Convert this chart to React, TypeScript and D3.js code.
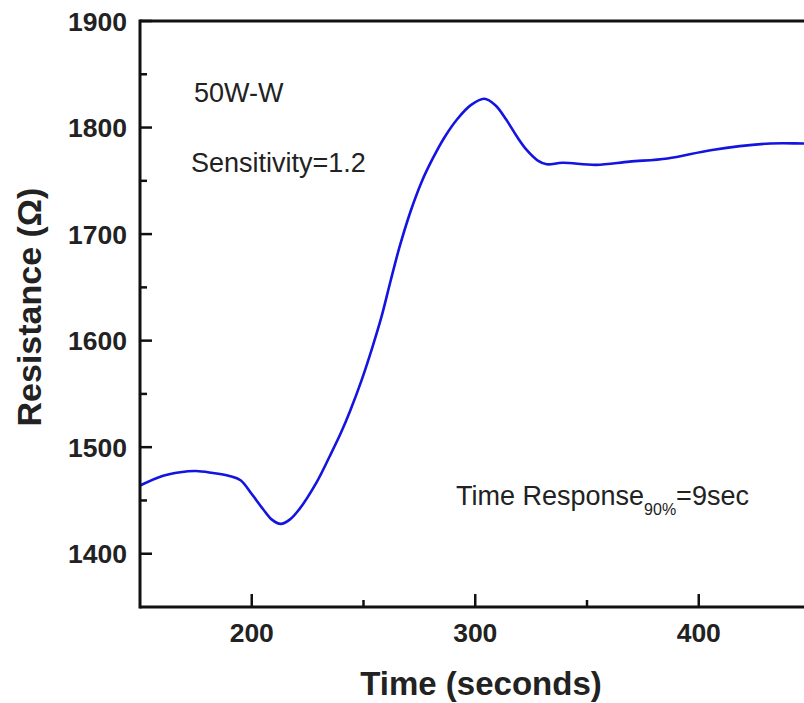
import React from "react";
import * as d3 from "d3";

const times = [150, 160, 168, 175, 182, 190, 195, 200, 205, 209, 213, 217, 221, 229, 235, 240, 244, 249, 254, 258, 262, 266, 271, 276, 281, 286, 292, 298, 304, 309, 314, 318.5, 323, 328, 332, 339, 354, 369, 386, 406, 432, 447, 455];
const resistance = [1464, 1473, 1476.5, 1477.6, 1476, 1473, 1469, 1456, 1442, 1432, 1428, 1432, 1441, 1467, 1492, 1514, 1534, 1562, 1594, 1622, 1655, 1687, 1721, 1749, 1771, 1790, 1808, 1821, 1827, 1821, 1807, 1792, 1779, 1769, 1765.5, 1767, 1765, 1768, 1771, 1779, 1785, 1785, 1785];
const xMajorTicks = [200, 300, 400];
const xMinorTicks = [250, 350];
const yMajorTicks = [1400, 1500, 1600, 1700, 1800, 1900];
const yMinorTicks = [1450, 1550, 1650, 1750, 1850];

const W = 804;
const H = 703;
const left = 140;
const top = 21;
const bottom = 607;

export default function App() {
  const x = d3.scaleLinear().domain([150, 450]).range([left, left + 300 * 2.235]);
  const y = d3.scaleLinear().domain([1350, 1900]).range([bottom, top]);
  const data = times.map((t, i) => [t, resistance[i]] as [number, number]);
  const line = d3
    .line<[number, number]>()
    .x((d) => x(d[0]))
    .y((d) => y(d[1]))
    .curve(d3.curveCatmullRom.alpha(0.5));
  const font = "Liberation Sans, Arial, Helvetica, sans-serif";
  const axisColor = "#111";
  return (
    <svg
      width={W}
      height={H}
      style={{ position: "absolute", left: 0, top: 0, background: "#fff" }}
      fontFamily={font}
    >
      <rect x={0} y={0} width={W} height={H} fill="#fff" />
      <defs>
        <clipPath id="plot">
          <rect x={left} y={top} width={W - left} height={bottom - top} />
        </clipPath>
      </defs>
      <path d={line(data) || ""} fill="none" stroke="#1414e0" strokeWidth={2.6} clipPath="url(#plot)" />
      {/* frame */}
      <line x1={left} x2={W + 5} y1={top} y2={top} stroke={axisColor} strokeWidth={3} />
      <line x1={left} x2={W + 5} y1={bottom} y2={bottom} stroke={axisColor} strokeWidth={3} />
      <line x1={left} x2={left} y1={top - 1.5} y2={bottom + 1.5} stroke={axisColor} strokeWidth={3} />
      {/* y ticks */}
      {yMajorTicks.map((v) => (
        <g key={"ym" + v}>
          <line x1={left} x2={left + 12} y1={y(v)} y2={y(v)} stroke={axisColor} strokeWidth={2.5} />
          <text x={127} y={y(v)} dy="0.36em" textAnchor="end" fontSize={26.5} fontWeight="bold" fill="#222">
            {v}
          </text>
        </g>
      ))}
      {yMinorTicks.map((v) => (
        <line key={"yn" + v} x1={left} x2={left + 7} y1={y(v)} y2={y(v)} stroke={axisColor} strokeWidth={2.5} />
      ))}
      {/* x ticks */}
      {xMajorTicks.map((v) => (
        <g key={"xm" + v}>
          <line x1={x(v)} x2={x(v)} y1={bottom} y2={bottom - 13} stroke={axisColor} strokeWidth={2.5} />
          <text x={x(v)} y={642} textAnchor="middle" fontSize={26.5} fontWeight="bold" fill="#222">
            {v}
          </text>
        </g>
      ))}
      {xMinorTicks.map((v) => (
        <line key={"xn" + v} x1={x(v)} x2={x(v)} y1={bottom} y2={bottom - 7} stroke={axisColor} strokeWidth={2.5} />
      ))}
      {/* axis titles */}
      <text x={481} y={695} textAnchor="middle" fontSize={33} fontWeight="bold" fill="#222">
        Time (seconds)
      </text>
      <text
        transform="translate(41,307) rotate(-90)"
        textAnchor="middle"
        fontSize={34}
        fontWeight="bold"
        fill="#222"
      >
        Resistance (Ω)
      </text>
      {/* annotations */}
      <text x={194} y={102} fontSize={27} fill="#222">
        50W-W
      </text>
      <text x={191} y={172} fontSize={27} fill="#222">
        Sensitivity=1.2
      </text>
      <text x={456} y={505} fontSize={27} fill="#222">
        Time Response
        <tspan fontSize={16} dy={10}>90%</tspan>
        <tspan dy={-10}>=9sec</tspan>
      </text>
    </svg>
  );
}
